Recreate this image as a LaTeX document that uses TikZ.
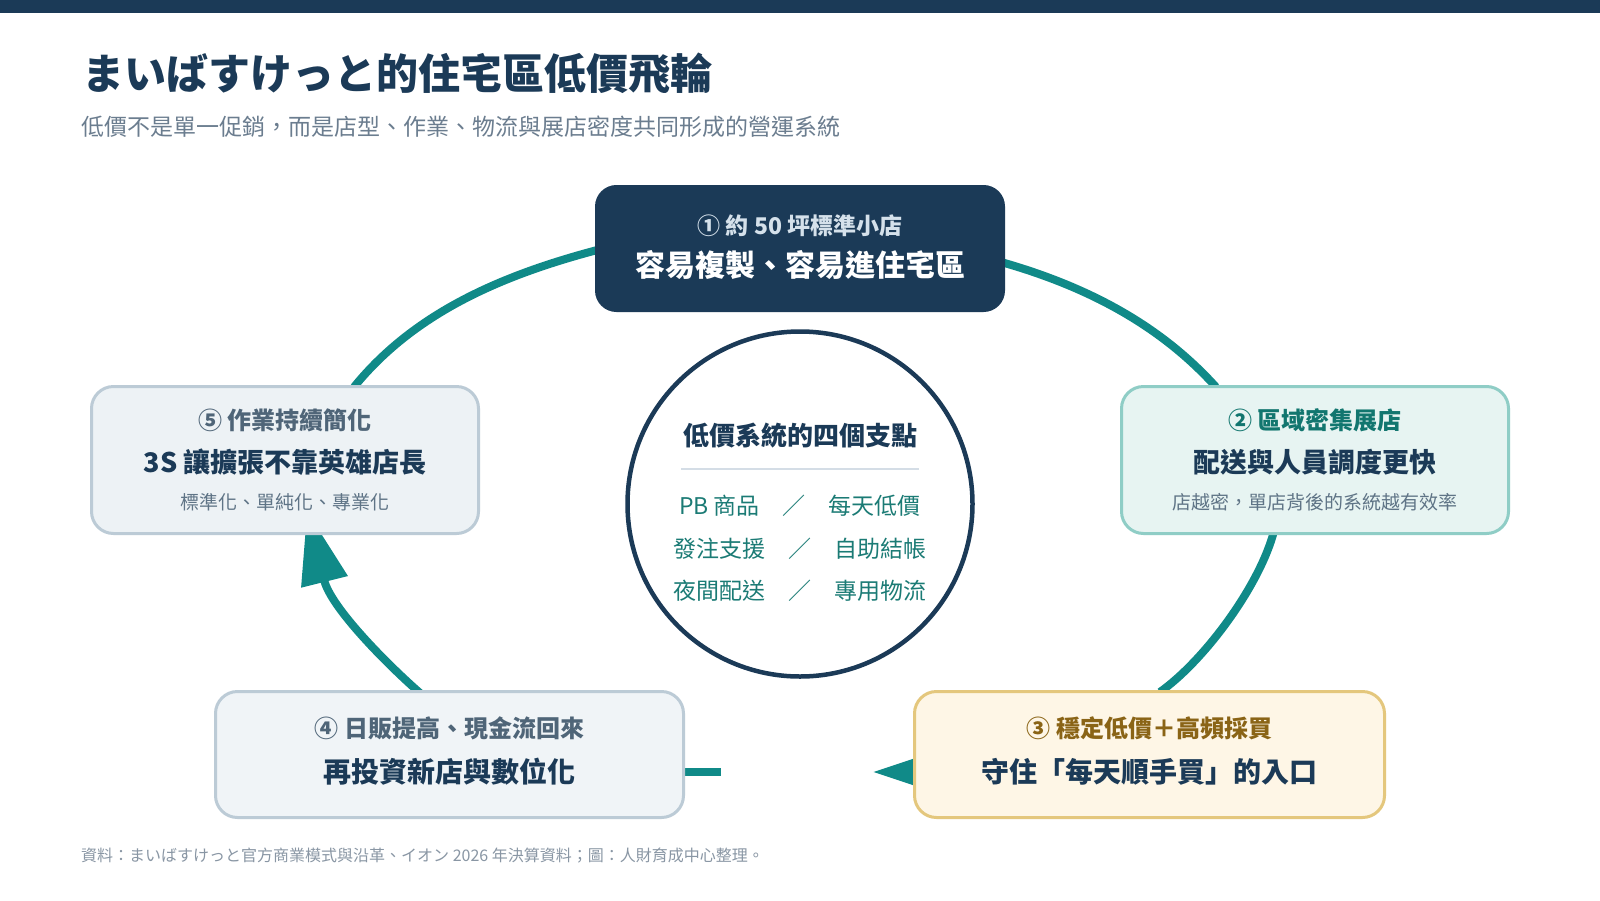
\documentclass[tikz,border=0pt]{standalone}
\usepackage{fontspec}
\setmainfont{Noto Sans CJK TC}
\usetikzlibrary{arrows.meta}
\definecolor{navy}{HTML}{1B3A57}
\definecolor{flowc}{HTML}{108A88}
\definecolor{tealtxt}{HTML}{12766F}
\definecolor{greytxt}{HTML}{5F7486}
\definecolor{slatetxt}{HTML}{4F6578}
\definecolor{browntxt}{HTML}{8A6416}
\definecolor{lighttxt}{HTML}{D5E1EB}
\definecolor{subt}{HTML}{6B7D8F}
\definecolor{footc}{HTML}{8996A4}
\definecolor{btwofill}{HTML}{E7F4F2}
\definecolor{btwoline}{HTML}{8FCDC6}
\definecolor{bfivefill}{HTML}{EDF2F5}
\definecolor{bfourfill}{HTML}{F0F4F7}
\definecolor{gline}{HTML}{BCCBD6}
\definecolor{bthreefill}{HTML}{FEF6E6}
\definecolor{bthreeline}{HTML}{E4C77D}
\definecolor{rowtxt}{HTML}{1B7B75}
\definecolor{divc}{HTML}{D4DDE6}
\newcommand{\fsz}[1]{\fontsize{#1pt}{#1pt}\selectfont}
\begin{document}
\begin{tikzpicture}[x=1pt,y=-1pt,
  flow/.style={draw=flowc, line width=8pt},
  bigtip/.style={-{Triangle[length=73pt,width=46pt]}},
  card/.style={rounded corners=22pt, line width=3pt, inner sep=0pt},
  lbl/.style={inner sep=0pt, anchor=center},
  rowlbl/.style={lbl, text=rowtxt, font=\fsz{23}}
]
\fill[white] (0,0) rectangle (1600,900);
\useasboundingbox (0,0) rectangle (1600,900);
\fill[navy] (0,0) rectangle (1600,13);

% headings
\node[lbl, anchor=west, text=navy] (title) at (82,73) {\fsz{42}\bfseries まいばすけっと的住宅區低價飛輪};
\node[lbl, anchor=west, text=subt] (subtitle) at (81,127) {\fsz{23}低價不是單一促銷，而是店型、作業、物流與展店密度共同形成的營運系統};
\node[lbl, anchor=west, text=footc] (footer) at (81,855) {\fsz{16}資料：まいばすけっと官方商業模式與沿革、イオン 2026 年決算資料；圖：人財育成中心整理。};

% connector end points
\coordinate (aS) at (354,387);
\coordinate (aE) at (601,249);
\coordinate (bS) at (1001,262);
\coordinate (bE) at (1216,387);
\coordinate (cS) at (1274,531);
\coordinate (cE) at (1160,692);
\coordinate (dS) at (420,693);
\coordinate (dE) at (307,511);
\coordinate (sS) at (680,772);
\coordinate (sE) at (721,772);
\coordinate (tS) at (985,772);
\coordinate (tE) at (873,772);

% connectors
\draw[flow] (aS) .. controls (416,310.5) and (506.5,273.7) .. (aE);
\draw[flow] (bS) .. controls (1082,285) and (1157.5,322) .. (bE);
\draw[flow] (cS) .. controls (1260,585) and (1205,660) .. (cE);
\draw[flow, bigtip] (dS) .. controls (388,665) and (331,608) .. (dE);
\draw[flow] (sS) -- (sE);
\draw[flow, bigtip] (tS) -- (tE);

% cards
\node[card, fill=navy, draw=navy, rounded corners=20pt, minimum width=407pt, minimum height=124pt] (b1) at (800,248.5) {};
\node[card, fill=btwofill, draw=btwoline, minimum width=387pt, minimum height=147pt] (b2) at (1315,460) {};
\node[card, fill=bfivefill, draw=gline, minimum width=387pt, minimum height=147pt] (b5) at (285,460) {};
\node[card, fill=bfourfill, draw=gline, minimum width=468pt, minimum height=126pt] (b4) at (449.5,754.5) {};
\node[card, fill=bthreefill, draw=bthreeline, minimum width=470pt, minimum height=126pt] (b3) at (1149.5,754.5) {};

% card texts
\node[lbl, text=lighttxt] (b1a) at (800,226) {\fsz{23}\bfseries ① 約 50 坪標準小店};
\node[lbl, text=white] (b1b) at (800,265) {\fsz{30}\bfseries 容易複製、容易進住宅區};

\node[lbl, text=tealtxt] (b2a) at (1315,420) {\fsz{24}\bfseries ② 區域密集展店};
\node[lbl, text=navy] (b2b) at (1315,462) {\fsz{27}\bfseries 配送與人員調度更快};
\node[lbl, text=greytxt] (b2c) at (1315,502) {\fsz{19}店越密，單店背後的系統越有效率};

\node[lbl, text=slatetxt] (b5a) at (285,420) {\fsz{24}\bfseries ⑤ 作業持續簡化};
\node[lbl, text=navy] (b5b) at (285,462) {\fsz{27}\bfseries 3S 讓擴張不靠英雄店長};
\node[lbl, text=greytxt] (b5c) at (285,502) {\fsz{19}標準化、單純化、專業化};

\node[lbl, text=slatetxt] (b4a) at (449.5,728) {\fsz{24}\bfseries ④ 日販提高、現金流回來};
\node[lbl, text=navy] (b4b) at (449.5,772) {\fsz{28}\bfseries 再投資新店與數位化};

\node[lbl, text=browntxt] (b3a) at (1149.5,728) {\fsz{24}\bfseries ③ 穩定低價＋高頻採買};
\node[lbl, text=navy] (b3b) at (1149.5,772) {\fsz{28}\bfseries 守住「每天順手買」的入口};

% hub
\node[circle, draw=navy, fill=white, line width=4.5pt, minimum size=345pt, inner sep=0pt] (hub) at (800,504) {};
\node[lbl, text=navy] (hubt) at (800,436) {\fsz{26}\bfseries 低價系統的四個支點};
\draw[divc, line width=2pt] (681,469) -- (919,469);
\node[rowlbl] (r1) at (800,506) {PB 商品\hspace{1em}／\hspace{1em}每天低價};
\node[rowlbl] (r2) at (800,549) {發注支援\hspace{1em}／\hspace{1em}自助結帳};
\node[rowlbl] (r3) at (800,591) {夜間配送\hspace{1em}／\hspace{1em}專用物流};
\end{tikzpicture}
\end{document}
